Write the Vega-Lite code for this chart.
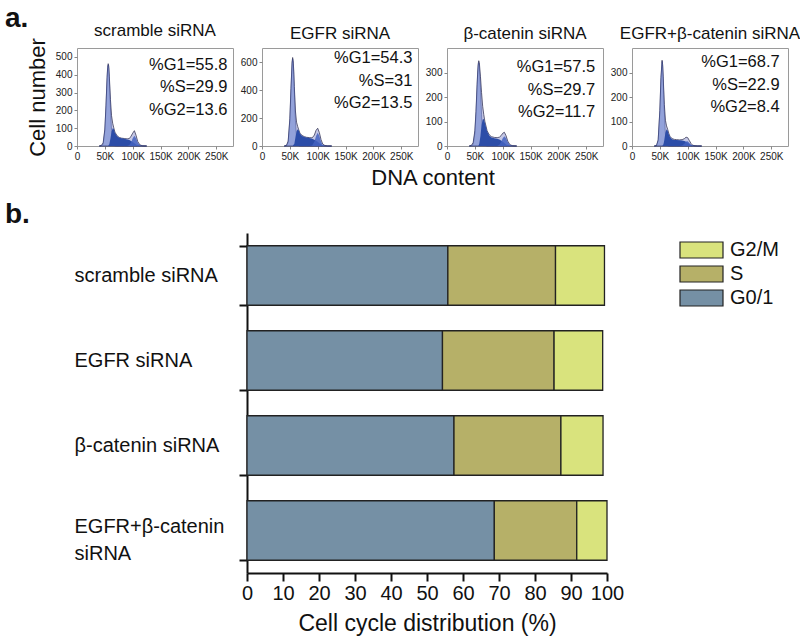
{
  "$schema": "https://vega.github.io/schema/vega-lite/v6.json",
  "padding": {"left": 5, "top": 5, "right": 5, "bottom": 5},
  "background": "white",
  "title": {"text": "a.", "anchor": "start", "frame": "group", "dx": -72, "fontSize": 28, "fontWeight": "bold", "offset": -12},
  "columns": 4,
  "bounds": "flush",
  "spacing": {"row": 87, "column": 29},
  "config": {
    "font": "Liberation Sans",
    "view": {"stroke": null},
    "axis": {"grid": false, "labelOverlap": false},
    "title": {"color": "#111", "fontWeight": "normal"}
  },
  "datasets": {
    "hist": [
      {"p":1,"x":40,"tot":0,"g1":0,"s":0,"g2":0},
      {"p":1,"x":44,"tot":4,"g1":1,"s":0,"g2":0},
      {"p":1,"x":47,"tot":18,"g1":11,"s":0,"g2":0},
      {"p":1,"x":50,"tot":95,"g1":87,"s":0,"g2":0},
      {"p":1,"x":52,"tot":225,"g1":218,"s":0,"g2":0},
      {"p":1,"x":54,"tot":385,"g1":378,"s":0,"g2":0},
      {"p":1,"x":55,"tot":442,"g1":435,"s":0,"g2":0},
      {"p":1,"x":56,"tot":462,"g1":455,"s":0,"g2":0},
      {"p":1,"x":57,"tot":448,"g1":435,"s":5,"g2":0},
      {"p":1,"x":58,"tot":392,"g1":378,"s":10,"g2":0},
      {"p":1,"x":60,"tot":262,"g1":218,"s":40,"g2":0},
      {"p":1,"x":62,"tot":170,"g1":87,"s":80,"g2":0},
      {"p":1,"x":64,"tot":128,"g1":24,"s":100,"g2":0},
      {"p":1,"x":66,"tot":102,"g1":5,"s":95,"g2":0},
      {"p":1,"x":68,"tot":78,"g1":1,"s":75,"g2":0},
      {"p":1,"x":72,"tot":57,"g1":0,"s":55,"g2":0},
      {"p":1,"x":76,"tot":48,"g1":0,"s":47,"g2":0},
      {"p":1,"x":80,"tot":44,"g1":0,"s":43,"g2":0},
      {"p":1,"x":85,"tot":42,"g1":0,"s":40,"g2":0},
      {"p":1,"x":90,"tot":40,"g1":0,"s":37,"g2":0},
      {"p":1,"x":94,"tot":42,"g1":0,"s":33,"g2":5},
      {"p":1,"x":97,"tot":55,"g1":0,"s":28,"g2":19},
      {"p":1,"x":100,"tot":72,"g1":0,"s":22,"g2":44},
      {"p":1,"x":103,"tot":86,"g1":0,"s":15,"g2":58},
      {"p":1,"x":106,"tot":60,"g1":0,"s":8,"g2":44},
      {"p":1,"x":109,"tot":25,"g1":0,"s":3,"g2":19},
      {"p":1,"x":113,"tot":6,"g1":0,"s":0,"g2":3},
      {"p":1,"x":118,"tot":1,"g1":0,"s":0,"g2":0},
      {"p":1,"x":125,"tot":0,"g1":0,"s":0,"g2":0},

      {"p":2,"x":40,"tot":0,"g1":0,"s":0,"g2":0},
      {"p":2,"x":44,"tot":5,"g1":2,"s":0,"g2":0},
      {"p":2,"x":47,"tot":35,"g1":27,"s":0,"g2":0},
      {"p":2,"x":50,"tot":195,"g1":183,"s":0,"g2":0},
      {"p":2,"x":52,"tot":410,"g1":400,"s":0,"g2":0},
      {"p":2,"x":54,"tot":600,"g1":590,"s":0,"g2":0},
      {"p":2,"x":55,"tot":632,"g1":620,"s":0,"g2":0},
      {"p":2,"x":56,"tot":610,"g1":590,"s":5,"g2":0},
      {"p":2,"x":57,"tot":535,"g1":510,"s":10,"g2":0},
      {"p":2,"x":58,"tot":425,"g1":400,"s":15,"g2":0},
      {"p":2,"x":60,"tot":250,"g1":183,"s":60,"g2":0},
      {"p":2,"x":62,"tot":170,"g1":57,"s":105,"g2":0},
      {"p":2,"x":64,"tot":140,"g1":12,"s":120,"g2":0},
      {"p":2,"x":66,"tot":115,"g1":2,"s":110,"g2":0},
      {"p":2,"x":68,"tot":92,"g1":0,"s":90,"g2":0},
      {"p":2,"x":72,"tot":75,"g1":0,"s":72,"g2":0},
      {"p":2,"x":76,"tot":67,"g1":0,"s":65,"g2":0},
      {"p":2,"x":80,"tot":62,"g1":0,"s":60,"g2":0},
      {"p":2,"x":85,"tot":60,"g1":0,"s":57,"g2":0},
      {"p":2,"x":90,"tot":58,"g1":0,"s":52,"g2":4},
      {"p":2,"x":94,"tot":78,"g1":0,"s":45,"g2":31},
      {"p":2,"x":97,"tot":112,"g1":0,"s":38,"g2":72},
      {"p":2,"x":100,"tot":127,"g1":0,"s":30,"g2":95},
      {"p":2,"x":103,"tot":95,"g1":0,"s":20,"g2":72},
      {"p":2,"x":106,"tot":45,"g1":0,"s":10,"g2":31},
      {"p":2,"x":109,"tot":14,"g1":0,"s":4,"g2":8},
      {"p":2,"x":113,"tot":3,"g1":0,"s":0,"g2":0},
      {"p":2,"x":118,"tot":0,"g1":0,"s":0,"g2":0},
      {"p":2,"x":125,"tot":0,"g1":0,"s":0,"g2":0},

      {"p":3,"x":40,"tot":0,"g1":0,"s":0,"g2":0},
      {"p":3,"x":44,"tot":3,"g1":1,"s":0,"g2":0},
      {"p":3,"x":47,"tot":14,"g1":7,"s":0,"g2":0},
      {"p":3,"x":50,"tot":62,"g1":51,"s":0,"g2":0},
      {"p":3,"x":52,"tot":140,"g1":130,"s":0,"g2":0},
      {"p":3,"x":54,"tot":250,"g1":240,"s":0,"g2":0},
      {"p":3,"x":55,"tot":298,"g1":291,"s":0,"g2":0},
      {"p":3,"x":56,"tot":335,"g1":327,"s":0,"g2":0},
      {"p":3,"x":57,"tot":348,"g1":340,"s":3,"g2":0},
      {"p":3,"x":58,"tot":340,"g1":327,"s":10,"g2":0},
      {"p":3,"x":60,"tot":285,"g1":240,"s":40,"g2":0},
      {"p":3,"x":62,"tot":218,"g1":130,"s":85,"g2":0},
      {"p":3,"x":64,"tot":162,"g1":51,"s":108,"g2":0},
      {"p":3,"x":66,"tot":128,"g1":15,"s":110,"g2":0},
      {"p":3,"x":68,"tot":100,"g1":3,"s":95,"g2":0},
      {"p":3,"x":72,"tot":62,"g1":0,"s":60,"g2":0},
      {"p":3,"x":76,"tot":45,"g1":0,"s":42,"g2":0},
      {"p":3,"x":80,"tot":38,"g1":0,"s":35,"g2":0},
      {"p":3,"x":85,"tot":35,"g1":0,"s":32,"g2":0},
      {"p":3,"x":90,"tot":34,"g1":0,"s":30,"g2":0},
      {"p":3,"x":94,"tot":36,"g1":0,"s":27,"g2":5},
      {"p":3,"x":97,"tot":42,"g1":0,"s":22,"g2":16},
      {"p":3,"x":100,"tot":52,"g1":0,"s":17,"g2":32},
      {"p":3,"x":103,"tot":56,"g1":0,"s":12,"g2":40},
      {"p":3,"x":106,"tot":42,"g1":0,"s":6,"g2":32},
      {"p":3,"x":109,"tot":20,"g1":0,"s":2,"g2":16},
      {"p":3,"x":113,"tot":5,"g1":0,"s":0,"g2":3},
      {"p":3,"x":118,"tot":1,"g1":0,"s":0,"g2":0},
      {"p":3,"x":125,"tot":0,"g1":0,"s":0,"g2":0},

      {"p":4,"x":40,"tot":0,"g1":0,"s":0,"g2":0},
      {"p":4,"x":44,"tot":2,"g1":1,"s":0,"g2":0},
      {"p":4,"x":47,"tot":25,"g1":23,"s":0,"g2":0},
      {"p":4,"x":50,"tot":145,"g1":142,"s":0,"g2":0},
      {"p":4,"x":52,"tot":280,"g1":276,"s":0,"g2":0},
      {"p":4,"x":54,"tot":350,"g1":345,"s":0,"g2":0},
      {"p":4,"x":55,"tot":332,"g1":326,"s":2,"g2":0},
      {"p":4,"x":56,"tot":285,"g1":276,"s":5,"g2":0},
      {"p":4,"x":57,"tot":225,"g1":209,"s":12,"g2":0},
      {"p":4,"x":58,"tot":170,"g1":142,"s":25,"g2":0},
      {"p":4,"x":60,"tot":105,"g1":47,"s":55,"g2":0},
      {"p":4,"x":62,"tot":82,"g1":10,"s":68,"g2":0},
      {"p":4,"x":64,"tot":68,"g1":1,"s":62,"g2":0},
      {"p":4,"x":66,"tot":52,"g1":0,"s":48,"g2":0},
      {"p":4,"x":68,"tot":40,"g1":0,"s":38,"g2":0},
      {"p":4,"x":72,"tot":30,"g1":0,"s":28,"g2":0},
      {"p":4,"x":76,"tot":27,"g1":0,"s":25,"g2":0},
      {"p":4,"x":80,"tot":26,"g1":0,"s":24,"g2":0},
      {"p":4,"x":85,"tot":25,"g1":0,"s":23,"g2":0},
      {"p":4,"x":90,"tot":26,"g1":0,"s":22,"g2":2},
      {"p":4,"x":94,"tot":30,"g1":0,"s":20,"g2":9},
      {"p":4,"x":97,"tot":36,"g1":0,"s":17,"g2":18},
      {"p":4,"x":100,"tot":34,"g1":0,"s":13,"g2":19},
      {"p":4,"x":103,"tot":22,"g1":0,"s":8,"g2":12},
      {"p":4,"x":106,"tot":10,"g1":0,"s":4,"g2":4},
      {"p":4,"x":109,"tot":3,"g1":0,"s":1,"g2":1},
      {"p":4,"x":113,"tot":1,"g1":0,"s":0,"g2":0},
      {"p":4,"x":118,"tot":0,"g1":0,"s":0,"g2":0},
      {"p":4,"x":125,"tot":0,"g1":0,"s":0,"g2":0}
    ],
    "notes": [
      {"p":1,"note":["%G1=55.8","%S=29.9","%G2=13.6"]},
      {"p":2,"note":["%G1=54.3","%S=31","%G2=13.5"]},
      {"p":3,"note":["%G1=57.5","%S=29.7","%G2=11.7"]},
      {"p":4,"note":["%G1=68.7","%S=22.9","%G2=8.4"]}
    ],
    "bars": [
      {"cond":"scramble siRNA","phase":"G0/1","ord":0,"pct":55.8},
      {"cond":"scramble siRNA","phase":"S","ord":1,"pct":29.9},
      {"cond":"scramble siRNA","phase":"G2/M","ord":2,"pct":13.6},
      {"cond":"EGFR siRNA","phase":"G0/1","ord":0,"pct":54.3},
      {"cond":"EGFR siRNA","phase":"S","ord":1,"pct":31},
      {"cond":"EGFR siRNA","phase":"G2/M","ord":2,"pct":13.5},
      {"cond":"β-catenin siRNA","phase":"G0/1","ord":0,"pct":57.5},
      {"cond":"β-catenin siRNA","phase":"S","ord":1,"pct":29.7},
      {"cond":"β-catenin siRNA","phase":"G2/M","ord":2,"pct":11.7},
      {"cond":"EGFR+β-catenin siRNA","phase":"G0/1","ord":0,"pct":68.7},
      {"cond":"EGFR+β-catenin siRNA","phase":"S","ord":1,"pct":22.9},
      {"cond":"EGFR+β-catenin siRNA","phase":"G2/M","ord":2,"pct":8.4}
    ]
  },
  "concat": [
    {
      "width": 156, "height": 98,
      "view": {"stroke": "#9a9a9a", "strokeWidth": 1},
      "title": {"text": "scramble siRNA", "fontSize": 17, "offset": -2},
      "layer": [
        {
          "data": {"name": "hist"},
          "transform": [{"filter": "datum.p == 1"}],
          "encoding": {"x": {"field": "x", "type": "quantitative", "title": null, "scale": {"domain": [0, 268]}, "axis": {"values": [0,50,100,150,200,250], "labelOverlap": false, "labelExpr": "datum.value == 0 ? '0' : datum.value + 'K'", "title": null, "domain": false, "tickSize": 3, "tickColor": "#888", "labelFontSize": 10, "labelPadding": 2, "labelColor": "#222", "labelFlush": false}}},
          "layer": [
            {"mark": {"type": "area", "fill": "#c5c8e6", "stroke": "#3a3a5a", "strokeWidth": 0.8}, "encoding": {"y": {"field": "tot", "type": "quantitative", "title": "Cell number", "scale": {"domain": [0, 510]}, "axis": {"values": [0,100,200,300,400,500], "labelOverlap": false, "domain": false, "tickSize": 3, "tickColor": "#888", "labelFontSize": 10, "labelPadding": 2, "labelColor": "#222", "titleFontSize": 22, "titleFontWeight": "normal", "titleColor": "#111", "titlePadding": 6}}}},
            {"mark": {"type": "area", "fill": "#7f93d6", "opacity": 0.7, "stroke": "#1e2f80", "strokeWidth": 0.6}, "encoding": {"y": {"field": "g1", "type": "quantitative", "title": "Cell number", "axis": {"values": [0,100,200,300,400,500], "labelOverlap": false, "domain": false, "tickSize": 3, "tickColor": "#888", "labelFontSize": 10, "labelPadding": 2, "labelColor": "#222", "titleFontSize": 22, "titleFontWeight": "normal", "titleColor": "#111", "titlePadding": 6}}}},
            {"mark": {"type": "area", "fill": "#2c4da8"}, "encoding": {"y": {"field": "s", "type": "quantitative", "title": "Cell number", "axis": {"values": [0,100,200,300,400,500], "labelOverlap": false, "domain": false, "tickSize": 3, "tickColor": "#888", "labelFontSize": 10, "labelPadding": 2, "labelColor": "#222", "titleFontSize": 22, "titleFontWeight": "normal", "titleColor": "#111", "titlePadding": 6}}}},
            {"mark": {"type": "area", "fill": "#4463c0", "opacity": 0.85}, "encoding": {"y": {"field": "g2", "type": "quantitative", "title": "Cell number", "axis": {"values": [0,100,200,300,400,500], "labelOverlap": false, "domain": false, "tickSize": 3, "tickColor": "#888", "labelFontSize": 10, "labelPadding": 2, "labelColor": "#222", "titleFontSize": 22, "titleFontWeight": "normal", "titleColor": "#111", "titlePadding": 6}}}}
          ]
        },
        {
          "data": {"name": "notes"},
          "transform": [{"filter": "datum.p == 1"}],
          "mark": {"type": "text", "align": "right", "baseline": "top", "fontSize": 16.5, "lineHeight": 22.5, "color": "#111"},
          "encoding": {
            "x": {"datum": 270, "title": null, "axis": {"values": [0,50,100,150,200,250], "labelOverlap": false, "labelExpr": "datum.value == 0 ? '0' : datum.value + 'K'", "title": null, "domain": false, "tickSize": 3, "tickColor": "#888", "labelFontSize": 10, "labelPadding": 2, "labelColor": "#222", "labelFlush": false}},
            "y": {"datum": 500, "title": "Cell number", "axis": {"values": [0,100,200,300,400,500], "labelOverlap": false, "domain": false, "tickSize": 3, "tickColor": "#888", "labelFontSize": 10, "labelPadding": 2, "labelColor": "#222", "titleFontSize": 22, "titleFontWeight": "normal", "titleColor": "#111", "titlePadding": 6}},
            "text": {"field": "note"}
          }
        }
      ]
    },
    {
      "width": 156, "height": 98,
      "view": {"stroke": "#9a9a9a", "strokeWidth": 1},
      "title": {"text": "EGFR siRNA", "fontSize": 17, "offset": 5},
      "layer": [
        {
          "data": {"name": "hist"},
          "transform": [{"filter": "datum.p == 2"}],
          "encoding": {"x": {"field": "x", "type": "quantitative", "title": "DNA content", "scale": {"domain": [0, 268]}, "axis": {"values": [0,50,100,150,200,250], "labelOverlap": false, "labelExpr": "datum.value == 0 ? '0' : datum.value + 'K'", "title": "DNA content", "titleX": 170.5, "titleAlign": "center", "titleFontSize": 22, "titleFontWeight": "normal", "titleColor": "#111", "titlePadding": 6, "domain": false, "tickSize": 3, "tickColor": "#888", "labelFontSize": 10, "labelPadding": 2, "labelColor": "#222", "labelFlush": false}}},
          "layer": [
            {"mark": {"type": "area", "fill": "#c5c8e6", "stroke": "#3a3a5a", "strokeWidth": 0.8}, "encoding": {"y": {"field": "tot", "type": "quantitative", "title": null, "scale": {"domain": [0, 700]}, "axis": {"values": [0,200,400,600], "labelOverlap": false, "domain": false, "tickSize": 3, "tickColor": "#888", "labelFontSize": 10, "labelPadding": 2, "labelColor": "#222"}}}},
            {"mark": {"type": "area", "fill": "#7f93d6", "opacity": 0.7, "stroke": "#1e2f80", "strokeWidth": 0.6}, "encoding": {"y": {"field": "g1", "type": "quantitative", "title": null, "axis": {"values": [0,200,400,600], "labelOverlap": false, "domain": false, "tickSize": 3, "tickColor": "#888", "labelFontSize": 10, "labelPadding": 2, "labelColor": "#222"}}}},
            {"mark": {"type": "area", "fill": "#2c4da8"}, "encoding": {"y": {"field": "s", "type": "quantitative", "title": null, "axis": {"values": [0,200,400,600], "labelOverlap": false, "domain": false, "tickSize": 3, "tickColor": "#888", "labelFontSize": 10, "labelPadding": 2, "labelColor": "#222"}}}},
            {"mark": {"type": "area", "fill": "#4463c0", "opacity": 0.85}, "encoding": {"y": {"field": "g2", "type": "quantitative", "title": null, "axis": {"values": [0,200,400,600], "labelOverlap": false, "domain": false, "tickSize": 3, "tickColor": "#888", "labelFontSize": 10, "labelPadding": 2, "labelColor": "#222"}}}}
          ]
        },
        {
          "data": {"name": "notes"},
          "transform": [{"filter": "datum.p == 2"}],
          "mark": {"type": "text", "align": "right", "baseline": "top", "fontSize": 16.5, "lineHeight": 22.5, "color": "#111"},
          "encoding": {
            "x": {"datum": 270, "title": "DNA content", "axis": {"values": [0,50,100,150,200,250], "labelOverlap": false, "labelExpr": "datum.value == 0 ? '0' : datum.value + 'K'", "title": "DNA content", "titleX": 170.5, "titleAlign": "center", "titleFontSize": 22, "titleFontWeight": "normal", "titleColor": "#111", "titlePadding": 6, "domain": false, "tickSize": 3, "tickColor": "#888", "labelFontSize": 10, "labelPadding": 2, "labelColor": "#222", "labelFlush": false}},
            "y": {"datum": 685, "title": null, "axis": {"values": [0,200,400,600], "labelOverlap": false, "domain": false, "tickSize": 3, "tickColor": "#888", "labelFontSize": 10, "labelPadding": 2, "labelColor": "#222"}},
            "text": {"field": "note"}
          }
        }
      ]
    },
    {
      "width": 156, "height": 98,
      "view": {"stroke": "#9a9a9a", "strokeWidth": 1},
      "title": {"text": "β-catenin siRNA", "fontSize": 17, "offset": 5},
      "layer": [
        {
          "data": {"name": "hist"},
          "transform": [{"filter": "datum.p == 3"}],
          "encoding": {"x": {"field": "x", "type": "quantitative", "title": null, "scale": {"domain": [0, 268]}, "axis": {"values": [0,50,100,150,200,250], "labelOverlap": false, "labelExpr": "datum.value == 0 ? '0' : datum.value + 'K'", "title": null, "domain": false, "tickSize": 3, "tickColor": "#888", "labelFontSize": 10, "labelPadding": 2, "labelColor": "#222", "labelFlush": false}}},
          "layer": [
            {"mark": {"type": "area", "fill": "#c5c8e6", "stroke": "#3a3a5a", "strokeWidth": 0.8}, "encoding": {"y": {"field": "tot", "type": "quantitative", "title": null, "scale": {"domain": [0, 363]}, "axis": {"values": [0,100,200,300], "labelOverlap": false, "domain": false, "tickSize": 3, "tickColor": "#888", "labelFontSize": 10, "labelPadding": 2, "labelColor": "#222"}}}},
            {"mark": {"type": "area", "fill": "#7f93d6", "opacity": 0.7, "stroke": "#1e2f80", "strokeWidth": 0.6}, "encoding": {"y": {"field": "g1", "type": "quantitative", "title": null, "axis": {"values": [0,100,200,300], "labelOverlap": false, "domain": false, "tickSize": 3, "tickColor": "#888", "labelFontSize": 10, "labelPadding": 2, "labelColor": "#222"}}}},
            {"mark": {"type": "area", "fill": "#2c4da8"}, "encoding": {"y": {"field": "s", "type": "quantitative", "title": null, "axis": {"values": [0,100,200,300], "labelOverlap": false, "domain": false, "tickSize": 3, "tickColor": "#888", "labelFontSize": 10, "labelPadding": 2, "labelColor": "#222"}}}},
            {"mark": {"type": "area", "fill": "#4463c0", "opacity": 0.85}, "encoding": {"y": {"field": "g2", "type": "quantitative", "title": null, "axis": {"values": [0,100,200,300], "labelOverlap": false, "domain": false, "tickSize": 3, "tickColor": "#888", "labelFontSize": 10, "labelPadding": 2, "labelColor": "#222"}}}}
          ]
        },
        {
          "data": {"name": "notes"},
          "transform": [{"filter": "datum.p == 3"}],
          "mark": {"type": "text", "align": "right", "baseline": "top", "fontSize": 16.5, "lineHeight": 22.5, "color": "#111"},
          "encoding": {
            "x": {"datum": 266, "title": null, "axis": {"values": [0,50,100,150,200,250], "labelOverlap": false, "labelExpr": "datum.value == 0 ? '0' : datum.value + 'K'", "title": null, "domain": false, "tickSize": 3, "tickColor": "#888", "labelFontSize": 10, "labelPadding": 2, "labelColor": "#222", "labelFlush": false}},
            "y": {"datum": 355, "title": null, "axis": {"values": [0,100,200,300], "labelOverlap": false, "domain": false, "tickSize": 3, "tickColor": "#888", "labelFontSize": 10, "labelPadding": 2, "labelColor": "#222"}},
            "text": {"field": "note"}
          }
        }
      ]
    },
    {
      "width": 156, "height": 98,
      "view": {"stroke": "#9a9a9a", "strokeWidth": 1},
      "title": {"text": "EGFR+β-catenin siRNA", "fontSize": 17, "offset": 5},
      "layer": [
        {
          "data": {"name": "hist"},
          "transform": [{"filter": "datum.p == 4"}],
          "encoding": {"x": {"field": "x", "type": "quantitative", "title": null, "scale": {"domain": [0, 268]}, "axis": {"values": [0,50,100,150,200,250], "labelOverlap": false, "labelExpr": "datum.value == 0 ? '0' : datum.value + 'K'", "title": null, "domain": false, "tickSize": 3, "tickColor": "#888", "labelFontSize": 10, "labelPadding": 2, "labelColor": "#222", "labelFlush": false}}},
          "layer": [
            {"mark": {"type": "area", "fill": "#c5c8e6", "stroke": "#3a3a5a", "strokeWidth": 0.8}, "encoding": {"y": {"field": "tot", "type": "quantitative", "title": null, "scale": {"domain": [0, 383]}, "axis": {"values": [0,100,200,300], "labelOverlap": false, "domain": false, "tickSize": 3, "tickColor": "#888", "labelFontSize": 10, "labelPadding": 2, "labelColor": "#222"}}}},
            {"mark": {"type": "area", "fill": "#7f93d6", "opacity": 0.7, "stroke": "#1e2f80", "strokeWidth": 0.6}, "encoding": {"y": {"field": "g1", "type": "quantitative", "title": null, "axis": {"values": [0,100,200,300], "labelOverlap": false, "domain": false, "tickSize": 3, "tickColor": "#888", "labelFontSize": 10, "labelPadding": 2, "labelColor": "#222"}}}},
            {"mark": {"type": "area", "fill": "#2c4da8"}, "encoding": {"y": {"field": "s", "type": "quantitative", "title": null, "axis": {"values": [0,100,200,300], "labelOverlap": false, "domain": false, "tickSize": 3, "tickColor": "#888", "labelFontSize": 10, "labelPadding": 2, "labelColor": "#222"}}}},
            {"mark": {"type": "area", "fill": "#4463c0", "opacity": 0.85}, "encoding": {"y": {"field": "g2", "type": "quantitative", "title": null, "axis": {"values": [0,100,200,300], "labelOverlap": false, "domain": false, "tickSize": 3, "tickColor": "#888", "labelFontSize": 10, "labelPadding": 2, "labelColor": "#222"}}}}
          ]
        },
        {
          "data": {"name": "notes"},
          "transform": [{"filter": "datum.p == 4"}],
          "mark": {"type": "text", "align": "right", "baseline": "top", "fontSize": 16.5, "lineHeight": 22.5, "color": "#111"},
          "encoding": {
            "x": {"datum": 265, "title": null, "axis": {"values": [0,50,100,150,200,250], "labelOverlap": false, "labelExpr": "datum.value == 0 ? '0' : datum.value + 'K'", "title": null, "domain": false, "tickSize": 3, "tickColor": "#888", "labelFontSize": 10, "labelPadding": 2, "labelColor": "#222", "labelFlush": false}},
            "y": {"datum": 375, "title": null, "axis": {"values": [0,100,200,300], "labelOverlap": false, "domain": false, "tickSize": 3, "tickColor": "#888", "labelFontSize": 10, "labelPadding": 2, "labelColor": "#222"}},
            "text": {"field": "note"}
          }
        }
      ]
    },
    {
      "width": 156, "height": 340,
      "title": {"text": "b.", "anchor": "start", "frame": "group", "dx": -72, "fontSize": 28, "fontWeight": "bold", "offset": -6},
      "data": {"name": "bars"},
      "mark": {"type": "bar", "stroke": "#222", "strokeWidth": 1.3},
      "encoding": {
        "y": {
          "field": "cond", "type": "nominal",
          "sort": ["scramble siRNA", "EGFR siRNA", "β-catenin siRNA", "EGFR+β-catenin siRNA"],
          "scale": {"paddingInner": 0.3, "paddingOuter": 0.15},
          "axis": {
            "title": null, "offset": -170, "tickBand": "extent",
            "domainColor": "#111", "domainWidth": 2, "tickColor": "#111", "tickWidth": 2, "tickSize": 8,
            "labelFontSize": 20, "labelColor": "#111", "labelAlign": "left", "labelBaseline": "middle",
            "labelPadding": 165, "labelLimit": 300, "labelLineHeight": 27,
            "labelExpr": "datum.value == 'EGFR+β-catenin siRNA' ? ['EGFR+β-catenin', 'siRNA'] : datum.label",
            "labelOffset": {"condition": {"test": "datum.value == 'EGFR+β-catenin siRNA'", "value": -4}, "value": 0}
          }
        },
        "x": {
          "field": "pct", "type": "quantitative", "stack": "zero",
          "scale": {"domain": [0, 100], "range": [170, 530]},
          "axis": {
            "values": [0,10,20,30,40,50,60,70,80,90,100], "title": "Cell cycle distribution (%)",
            "labelOverlap": false,
            "domainColor": "#111", "domainWidth": 2, "tickColor": "#111", "tickWidth": 2, "tickSize": 8,
            "labelFontSize": 20, "labelColor": "#111", "labelPadding": 2, "labelFlush": false,
            "titleFontSize": 23, "titleFontWeight": "normal", "titleColor": "#111", "titlePadding": 9
          }
        },
        "color": {
          "field": "phase", "type": "nominal",
          "scale": {"domain": ["G2/M", "S", "G0/1"], "range": ["#d9e37d", "#b6b068", "#7590a5"]},
          "legend": {
            "title": null, "orient": "none", "legendX": 602, "legendY": 192,
            "symbolType": "M-1,-0.372L1,-0.372L1,0.372L-1,0.372Z", "symbolSize": 1849,
            "symbolStrokeColor": "#222", "symbolStrokeWidth": 1.2, "symbolOpacity": 1,
            "clipHeight": 20,
            "labelFontSize": 20, "labelColor": "#111", "labelOffset": 6, "rowPadding": 4
          }
        },
        "order": {"field": "ord", "type": "quantitative"}
      }
    }
  ]
}
